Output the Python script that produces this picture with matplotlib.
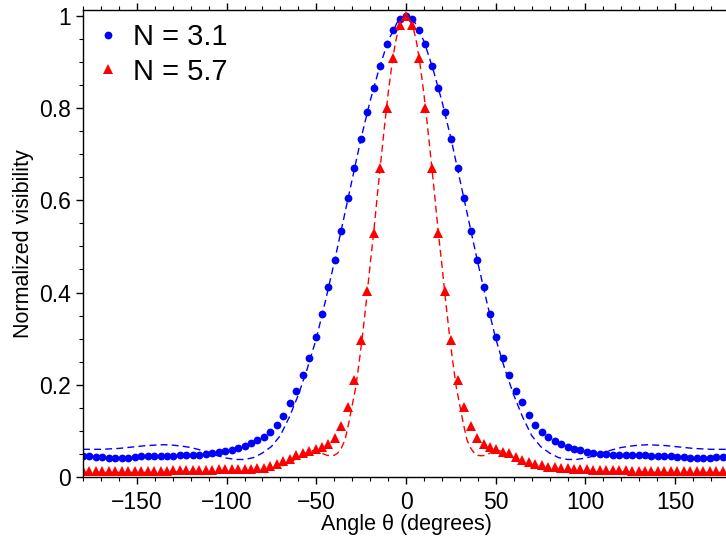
import numpy as np
import matplotlib
matplotlib.use("Agg")
import matplotlib.pyplot as plt
from matplotlib.ticker import MultipleLocator

plt.rcParams['font.family'] = ['Liberation Sans', 'DejaVu Sans']

# measured angles (degrees), one point every 3.6 deg
theta = np.linspace(-180, 180, 101)

# N = 3.1 (blue dots)
vis_31 = [
    0.045, 0.045, 0.044, 0.043, 0.042, 0.041, 0.041, 0.042, 0.043, 0.045,
    0.046, 0.046, 0.046, 0.046, 0.046, 0.047, 0.047, 0.048, 0.048, 0.050,
    0.051, 0.054, 0.057, 0.059, 0.062, 0.067, 0.074, 0.080, 0.087, 0.098,
    0.112, 0.133, 0.161, 0.187, 0.221, 0.258, 0.304, 0.354, 0.412, 0.470,
    0.534, 0.605, 0.669, 0.732, 0.792, 0.843, 0.892, 0.938, 0.970, 0.993,
    1.000,
    0.993, 0.970, 0.938, 0.892, 0.843, 0.792, 0.732, 0.669, 0.605, 0.534,
    0.470, 0.412, 0.354, 0.304, 0.258, 0.221, 0.187, 0.162, 0.134, 0.113,
    0.098, 0.087, 0.078, 0.072, 0.065, 0.061, 0.058, 0.055, 0.052, 0.050,
    0.049, 0.048, 0.048, 0.047, 0.047, 0.047, 0.047, 0.046, 0.046, 0.046,
    0.045, 0.044, 0.043, 0.042, 0.041, 0.041, 0.042, 0.043, 0.044, 0.046,
]

# N = 5.7 (red triangles)
vis_57 = [
    0.013, 0.013, 0.013, 0.013, 0.013, 0.013, 0.013, 0.013, 0.013, 0.014,
    0.014, 0.014, 0.014, 0.014, 0.015, 0.015, 0.015, 0.015, 0.016, 0.016,
    0.016, 0.017, 0.017, 0.017, 0.017, 0.018, 0.018, 0.019, 0.020, 0.023,
    0.028, 0.034, 0.039, 0.047, 0.052, 0.056, 0.060, 0.066, 0.072, 0.085,
    0.110, 0.151, 0.211, 0.296, 0.403, 0.530, 0.669, 0.801, 0.908, 0.979,
    1.000,
    0.979, 0.908, 0.801, 0.669, 0.530, 0.403, 0.296, 0.211, 0.151, 0.111,
    0.085, 0.072, 0.065, 0.060, 0.055, 0.051, 0.043, 0.037, 0.033, 0.029,
    0.025, 0.022, 0.022, 0.020, 0.019, 0.018, 0.017, 0.017, 0.016, 0.016,
    0.016, 0.015, 0.015, 0.015, 0.014, 0.014, 0.014, 0.014, 0.014, 0.013,
    0.013, 0.013, 0.013, 0.013, 0.013, 0.013, 0.013, 0.013, 0.013, 0.013,
]

# model curves (dashed)
fit_theta_31 = np.arange(-180, 181, 5)
fit_31 = [
    0.060, 0.060, 0.060, 0.061, 0.062, 0.064, 0.066, 0.068, 0.069, 0.070,
    0.069, 0.067, 0.064, 0.059, 0.053, 0.046, 0.041, 0.038, 0.038, 0.042,
    0.052, 0.066, 0.090, 0.130, 0.178, 0.235, 0.300, 0.380, 0.465, 0.555,
    0.645, 0.735, 0.815, 0.885, 0.945, 0.985,
    1.000,
    0.985, 0.945, 0.885, 0.815, 0.735, 0.645, 0.555, 0.465, 0.380, 0.300,
    0.235, 0.178, 0.130, 0.090, 0.066, 0.052, 0.042, 0.038, 0.038, 0.041,
    0.046, 0.053, 0.059, 0.064, 0.067, 0.069, 0.070, 0.069, 0.068, 0.066,
    0.064, 0.062, 0.061, 0.060, 0.060, 0.060,
]

fit_theta_57 = [
    -180, -170, -160, -150, -140, -130, -120, -110, -100, -90, -80, -75, -70,
    -65, -60, -56, -52, -50, -48, -46, -44, -42, -40, -38, -36, -34, -32, -30,
    -28, -26, -24, -22, -20, -18, -16, -14, -12, -10, -8, -6, -4, -2,
    0,
    2, 4, 6, 8, 10, 12, 14, 16, 18, 20, 22, 24, 26, 28, 30, 32, 34, 36, 38,
    40, 42, 44, 46, 48, 50, 52, 56, 60, 65, 70, 75, 80, 90, 100, 110, 120,
    130, 140, 150, 160, 170, 180,
]
fit_57 = [
    0.010, 0.010, 0.010, 0.010, 0.010, 0.011, 0.011, 0.011, 0.011, 0.012,
    0.014, 0.017, 0.022, 0.031, 0.042, 0.052, 0.057, 0.057, 0.054, 0.050,
    0.047, 0.046, 0.047, 0.052, 0.063, 0.080, 0.115, 0.155, 0.195, 0.252,
    0.315, 0.385, 0.460, 0.530, 0.610, 0.685, 0.760, 0.830, 0.890, 0.940,
    0.975, 0.993,
    1.000,
    0.993, 0.975, 0.940, 0.890, 0.830, 0.760, 0.685, 0.610, 0.530, 0.460,
    0.385, 0.315, 0.252, 0.195, 0.155, 0.115, 0.080, 0.063, 0.052, 0.047,
    0.046, 0.047, 0.050, 0.054, 0.057, 0.057, 0.052, 0.042, 0.031, 0.022,
    0.017, 0.014, 0.012, 0.011, 0.011, 0.011, 0.011, 0.010, 0.010, 0.010,
    0.010, 0.010,
]

x_ticks = [-150, -100, -50, 0, 50, 100, 150]
y_ticks = [0, 0.2, 0.4, 0.6, 0.8, 1.0]
y_tick_labels = ["0", "0.2", "0.4", "0.6", "0.8", "1"]

fig = plt.figure(figsize=(7.26, 5.37), dpi=100)
ax = fig.add_axes([83 / 726, 1 - 477 / 537, (729 - 83) / 726, 467 / 537])

ax.plot(theta, vis_31, 'o', color='blue', ms=5.6, mew=0, label='N = 3.1')
ax.plot(theta, vis_57, '^', color='red', ms=6.5, mew=0, label='N = 5.7')
ax.plot(fit_theta_31, fit_31, '--', color='blue', lw=1.0, dashes=(5, 3))
ax.plot(fit_theta_57, fit_57, '--', color='red', lw=1.0, dashes=(5, 3))

ax.set_xlim(-180, 180)
ax.set_ylim(0, 1.0125)
ax.set_xticks(x_ticks)
ax.set_yticks(y_ticks)
ax.set_yticklabels(y_tick_labels)
ax.xaxis.set_minor_locator(MultipleLocator(10))
ax.yaxis.set_minor_locator(MultipleLocator(0.05))
ax.tick_params(which='both', direction='out', top=True, right=True, labelsize=16.5)
ax.tick_params(axis='x', which='major', length=5, width=1, pad=5)
ax.tick_params(axis='y', which='major', length=5, width=1, pad=4)
ax.tick_params(which='minor', length=3, width=0.8)
for s in ax.spines.values():
    s.set_linewidth(1.0)

ax.set_xlabel('Angle θ (degrees)', fontsize=15.5, labelpad=0)
ax.set_ylabel('Normalized visibility', fontsize=15.5, labelpad=3)

ax.legend(loc='upper left', bbox_to_anchor=(0.0, 1.0), frameon=False,
          fontsize=21, numpoints=1, handlelength=0.8, handletextpad=0.45,
          labelspacing=0.22, borderaxespad=0.15, borderpad=0.3)

fig.savefig('out.png', dpi=100)
